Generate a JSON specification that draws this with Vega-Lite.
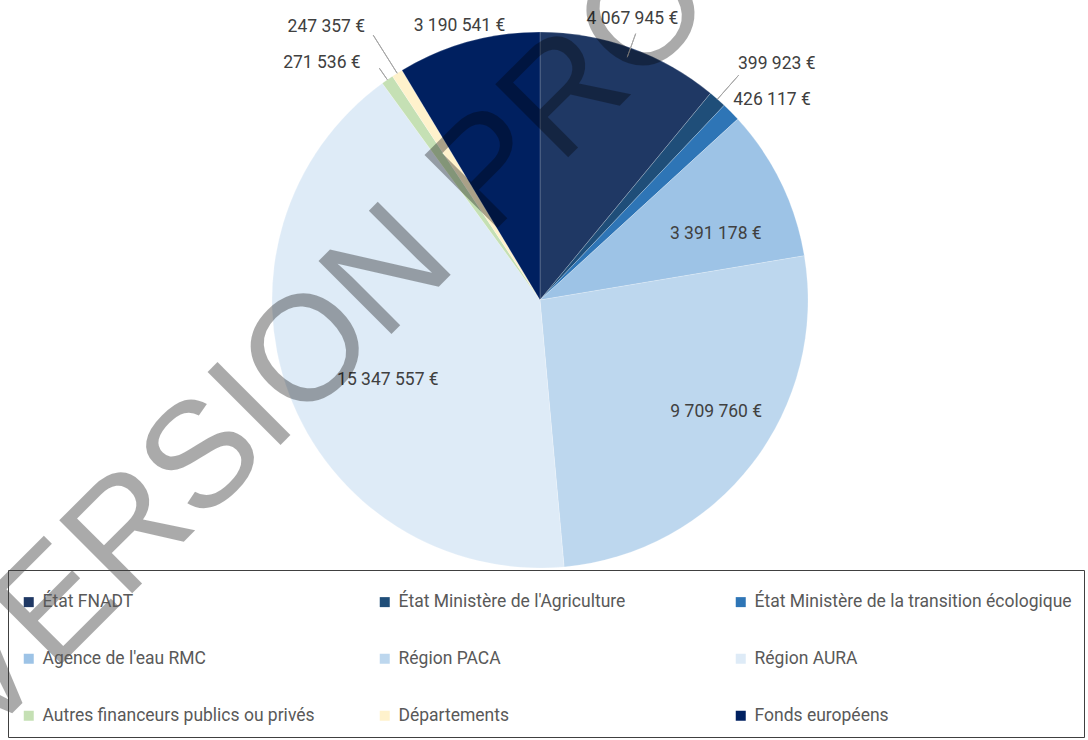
{
  "$schema": "https://vega.github.io/schema/vega-lite/v6.json",
  "width": 1080,
  "height": 600,
  "autosize": {"type": "none"},
  "padding": {"left": 0, "top": 0, "right": 8, "bottom": 140},
  "background": "#ffffff",
  "config": {"view": {"stroke": null}, "font": "Roboto"},
  "data": {
    "values": [
      {"ordre": 1, "nom": "État FNADT", "montant": 4067945, "etiquette": "4 067 945 €"},
      {"ordre": 2, "nom": "État Ministère de l'Agriculture", "montant": 399923, "etiquette": "399 923 €"},
      {"ordre": 3, "nom": "État Ministère de la transition écologique", "montant": 426117, "etiquette": "426 117 €"},
      {"ordre": 4, "nom": "Agence de l'eau RMC", "montant": 3391178, "etiquette": "3 391 178 €"},
      {"ordre": 5, "nom": "Région PACA", "montant": 9709760, "etiquette": "9 709 760 €"},
      {"ordre": 6, "nom": "Région AURA", "montant": 15347557, "etiquette": "15 347 557 €"},
      {"ordre": 7, "nom": "Autres financeurs publics ou privés", "montant": 271536, "etiquette": "271 536 €"},
      {"ordre": 8, "nom": "Départements", "montant": 247357, "etiquette": "247 357 €"},
      {"ordre": 9, "nom": "Fonds européens", "montant": 3190541, "etiquette": "3 190 541 €"}
    ]
  },
  "encoding": {
    "theta": {"field": "montant", "type": "quantitative", "stack": true},
    "order": {"field": "ordre", "type": "quantitative"}
  },
  "layer": [
    {
      "mark": {"type": "arc", "outerRadius": 268, "stroke": "#ffffff", "strokeWidth": 0.4, "strokeOpacity": 0.5},
      "encoding": {
        "color": {
          "field": "nom", "type": "nominal",
          "scale": {
            "domain": ["État FNADT", "État Ministère de l'Agriculture", "État Ministère de la transition écologique", "Agence de l'eau RMC", "Région PACA", "Région AURA", "Autres financeurs publics ou privés", "Départements", "Fonds européens"],
            "range": ["#1F3864", "#1F4E79", "#2E75B6", "#9DC3E6", "#BDD7EE", "#DEEBF7", "#C5E0B4", "#FFF2CC", "#002060"]
          },
          "legend": {
            "orient": "none", "legendX": 8, "legendY": 570,
            "direction": "horizontal", "columns": 3, "gridAlign": "all",
            "columnPadding": 16, "rowPadding": 38,
            "symbolType": "square", "symbolSize": 100, "symbolStrokeWidth": 0,
            "labelFont": "Roboto", "labelFontSize": 17.5, "labelColor": "#595959", "labelOffset": 5, "labelLimit": 0,
            "strokeColor": "#404040", "padding": 12,
            "title": " ", "titleFontSize": 10, "titlePadding": 1
          }
        }
      }
    },
    {
      "mark": {"type": "arc", "padAngle": 1, "innerRadius": 258, "outerRadius": 283, "fillOpacity": 0, "stroke": "#A6A6A6", "strokeWidth": 1},
      "encoding": {"strokeOpacity": {"condition": {"test": "datum.ordre === 1", "value": 1}, "value": 0}}
    },
    {
      "mark": {"type": "arc", "padAngle": 1, "innerRadius": 268, "outerRadius": 300, "fillOpacity": 0, "stroke": "#A6A6A6", "strokeWidth": 1},
      "encoding": {"strokeOpacity": {"condition": {"test": "datum.ordre === 2", "value": 1}, "value": 0}}
    },
    {
      "mark": {"type": "arc", "padAngle": 1, "innerRadius": 268, "outerRadius": 282, "fillOpacity": 0, "stroke": "#A6A6A6", "strokeWidth": 1},
      "encoding": {"strokeOpacity": {"condition": {"test": "datum.ordre === 7", "value": 1}, "value": 0}}
    },
    {
      "mark": {"type": "arc", "padAngle": 1, "innerRadius": 268, "outerRadius": 313, "fillOpacity": 0, "stroke": "#A6A6A6", "strokeWidth": 1},
      "encoding": {"strokeOpacity": {"condition": {"test": "datum.ordre === 8", "value": 1}, "value": 0}}
    },
    {
      "mark": {"type": "text", "radius": 300, "dx": -9, "dy": 1, "fontSize": 17.5, "color": "#404040", "font": "Roboto"},
      "encoding": {"text": {"condition": {"test": "datum.ordre === 1", "field": "etiquette", "type": "nominal"}, "value": ""}}
    },
    {
      "mark": {"type": "text", "radius": 305, "align": "left", "dx": -4, "dy": -7, "fontSize": 17.5, "color": "#404040", "font": "Roboto"},
      "encoding": {"text": {"condition": {"test": "datum.ordre === 2", "field": "etiquette", "type": "nominal"}, "value": ""}}
    },
    {
      "mark": {"type": "text", "radius": 285, "align": "left", "dx": -10, "dy": 0, "fontSize": 17.5, "color": "#404040", "font": "Roboto"},
      "encoding": {"text": {"condition": {"test": "datum.ordre === 3", "field": "etiquette", "type": "nominal"}, "value": ""}}
    },
    {
      "mark": {"type": "text", "radius": 190, "dx": 5, "dy": 17, "fontSize": 17.5, "color": "#404040", "font": "Roboto"},
      "encoding": {"text": {"condition": {"test": "datum.ordre === 4", "field": "etiquette", "type": "nominal"}, "value": ""}}
    },
    {
      "mark": {"type": "text", "radius": 210, "dx": 10, "dy": -16, "fontSize": 17.5, "color": "#404040", "font": "Roboto"},
      "encoding": {"text": {"condition": {"test": "datum.ordre === 5", "field": "etiquette", "type": "nominal"}, "value": ""}}
    },
    {
      "mark": {"type": "text", "radius": 170, "dx": 7, "dy": 20, "fontSize": 17.5, "color": "#404040", "font": "Roboto"},
      "encoding": {"text": {"condition": {"test": "datum.ordre === 6", "field": "etiquette", "type": "nominal"}, "value": ""}}
    },
    {
      "mark": {"type": "text", "radius": 285, "align": "right", "dx": -17, "dy": -3, "fontSize": 17.5, "color": "#404040", "font": "Roboto"},
      "encoding": {"text": {"condition": {"test": "datum.ordre === 7", "field": "etiquette", "type": "nominal"}, "value": ""}}
    },
    {
      "mark": {"type": "text", "radius": 315, "align": "right", "dx": -7, "dy": -6, "fontSize": 17.5, "color": "#404040", "font": "Roboto"},
      "encoding": {"text": {"condition": {"test": "datum.ordre === 8", "field": "etiquette", "type": "nominal"}, "value": ""}}
    },
    {
      "mark": {"type": "text", "radius": 290, "dx": -3, "dy": 5, "fontSize": 17.5, "color": "#404040", "font": "Roboto"},
      "encoding": {"text": {"condition": {"test": "datum.ordre === 9", "field": "etiquette", "type": "nominal"}, "value": ""}}
    },
    {
      "data": {"values": [{"filigrane": "VERSION PROJET"}]},
      "mark": {"type": "text", "angle": -45, "dx": -54, "dy": -126, "fontSize": 150, "font": "Liberation Sans", "color": "#000000", "opacity": 0.33, "align": "center", "baseline": "middle"},
      "encoding": {"text": {"field": "filigrane", "type": "nominal"}, "theta": null, "order": null}
    }
  ]
}
